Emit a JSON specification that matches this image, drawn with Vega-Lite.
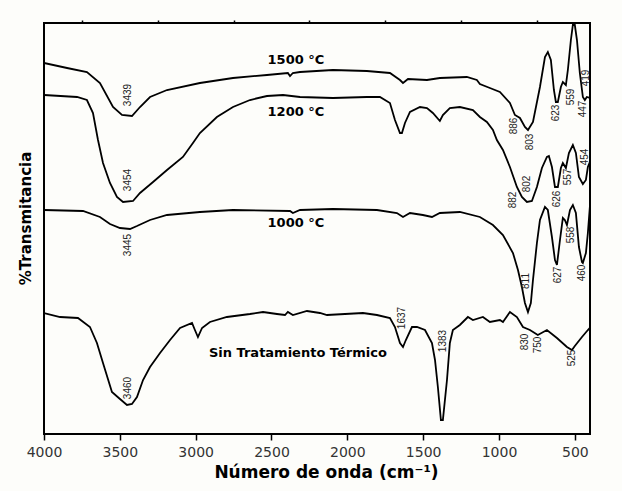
{
  "$schema": "https://vega.github.io/schema/vega-lite/v6.json",
  "width": 546,
  "height": 411,
  "autosize": {"type": "none"},
  "padding": {"left": 44, "top": 23, "right": 32, "bottom": 57},
  "background": "#fdfdfa",
  "config": {
    "view": {"stroke": "black", "strokeWidth": 2},
    "axis": {"grid": false, "domain": false}
  },
  "datasets": {
    "spectra": [
      {"s": "1500", "w": 4000, "t": 371}, {"s": "1500", "w": 3848, "t": 366}, {"s": "1500", "w": 3717, "t": 362},
      {"s": "1500", "w": 3631, "t": 351}, {"s": "1500", "w": 3545, "t": 327}, {"s": "1500", "w": 3486, "t": 319},
      {"s": "1500", "w": 3420, "t": 318}, {"s": "1500", "w": 3367, "t": 327}, {"s": "1500", "w": 3301, "t": 337},
      {"s": "1500", "w": 3189, "t": 344}, {"s": "1500", "w": 2972, "t": 351}, {"s": "1500", "w": 2754, "t": 356},
      {"s": "1500", "w": 2530, "t": 359}, {"s": "1500", "w": 2392, "t": 361}, {"s": "1500", "w": 2378, "t": 358},
      {"s": "1500", "w": 2359, "t": 361}, {"s": "1500", "w": 2312, "t": 362}, {"s": "1500", "w": 2095, "t": 364},
      {"s": "1500", "w": 1871, "t": 363}, {"s": "1500", "w": 1719, "t": 361}, {"s": "1500", "w": 1653, "t": 354},
      {"s": "1500", "w": 1633, "t": 351}, {"s": "1500", "w": 1600, "t": 355}, {"s": "1500", "w": 1475, "t": 354},
      {"s": "1500", "w": 1390, "t": 356}, {"s": "1500", "w": 1212, "t": 357}, {"s": "1500", "w": 1146, "t": 354},
      {"s": "1500", "w": 1126, "t": 350}, {"s": "1500", "w": 1060, "t": 346}, {"s": "1500", "w": 994, "t": 342},
      {"s": "1500", "w": 928, "t": 331}, {"s": "1500", "w": 895, "t": 319}, {"s": "1500", "w": 862, "t": 316},
      {"s": "1500", "w": 829, "t": 307}, {"s": "1500", "w": 809, "t": 304}, {"s": "1500", "w": 776, "t": 312},
      {"s": "1500", "w": 730, "t": 347}, {"s": "1500", "w": 697, "t": 377}, {"s": "1500", "w": 678, "t": 382},
      {"s": "1500", "w": 658, "t": 374}, {"s": "1500", "w": 638, "t": 344}, {"s": "1500", "w": 625, "t": 332},
      {"s": "1500", "w": 612, "t": 332}, {"s": "1500", "w": 592, "t": 347}, {"s": "1500", "w": 579, "t": 352},
      {"s": "1500", "w": 559, "t": 349}, {"s": "1500", "w": 546, "t": 364}, {"s": "1500", "w": 526, "t": 394},
      {"s": "1500", "w": 513, "t": 409}, {"s": "1500", "w": 500, "t": 409}, {"s": "1500", "w": 486, "t": 394},
      {"s": "1500", "w": 467, "t": 361}, {"s": "1500", "w": 447, "t": 337}, {"s": "1500", "w": 434, "t": 334},
      {"s": "1500", "w": 421, "t": 337}, {"s": "1500", "w": 401, "t": 336},

      {"s": "1200", "w": 4000, "t": 339}, {"s": "1200", "w": 3782, "t": 337}, {"s": "1200", "w": 3717, "t": 334},
      {"s": "1200", "w": 3677, "t": 321}, {"s": "1200", "w": 3644, "t": 294}, {"s": "1200", "w": 3611, "t": 271},
      {"s": "1200", "w": 3565, "t": 251}, {"s": "1200", "w": 3519, "t": 237}, {"s": "1200", "w": 3479, "t": 232},
      {"s": "1200", "w": 3413, "t": 233}, {"s": "1200", "w": 3367, "t": 241}, {"s": "1200", "w": 3281, "t": 252},
      {"s": "1200", "w": 3189, "t": 264}, {"s": "1200", "w": 3084, "t": 277}, {"s": "1200", "w": 3018, "t": 291},
      {"s": "1200", "w": 2972, "t": 301}, {"s": "1200", "w": 2860, "t": 317}, {"s": "1200", "w": 2754, "t": 327},
      {"s": "1200", "w": 2642, "t": 334}, {"s": "1200", "w": 2530, "t": 338}, {"s": "1200", "w": 2424, "t": 339},
      {"s": "1200", "w": 2312, "t": 337}, {"s": "1200", "w": 2095, "t": 336}, {"s": "1200", "w": 1871, "t": 337},
      {"s": "1200", "w": 1785, "t": 337}, {"s": "1200", "w": 1719, "t": 331}, {"s": "1200", "w": 1686, "t": 314},
      {"s": "1200", "w": 1653, "t": 301}, {"s": "1200", "w": 1640, "t": 301}, {"s": "1200", "w": 1620, "t": 311},
      {"s": "1200", "w": 1587, "t": 322}, {"s": "1200", "w": 1521, "t": 327}, {"s": "1200", "w": 1475, "t": 326},
      {"s": "1200", "w": 1436, "t": 321}, {"s": "1200", "w": 1390, "t": 313}, {"s": "1200", "w": 1370, "t": 319},
      {"s": "1200", "w": 1324, "t": 326}, {"s": "1200", "w": 1258, "t": 327}, {"s": "1200", "w": 1172, "t": 324},
      {"s": "1200", "w": 1126, "t": 317}, {"s": "1200", "w": 1080, "t": 312}, {"s": "1200", "w": 1040, "t": 304},
      {"s": "1200", "w": 1014, "t": 294}, {"s": "1200", "w": 974, "t": 284}, {"s": "1200", "w": 928, "t": 267},
      {"s": "1200", "w": 882, "t": 247}, {"s": "1200", "w": 849, "t": 237}, {"s": "1200", "w": 816, "t": 232},
      {"s": "1200", "w": 783, "t": 233}, {"s": "1200", "w": 750, "t": 247}, {"s": "1200", "w": 717, "t": 266},
      {"s": "1200", "w": 684, "t": 277}, {"s": "1200", "w": 671, "t": 278}, {"s": "1200", "w": 651, "t": 267},
      {"s": "1200", "w": 631, "t": 247}, {"s": "1200", "w": 612, "t": 247}, {"s": "1200", "w": 592, "t": 266},
      {"s": "1200", "w": 579, "t": 271}, {"s": "1200", "w": 559, "t": 266}, {"s": "1200", "w": 539, "t": 281},
      {"s": "1200", "w": 513, "t": 289}, {"s": "1200", "w": 493, "t": 281}, {"s": "1200", "w": 473, "t": 257},
      {"s": "1200", "w": 447, "t": 250}, {"s": "1200", "w": 427, "t": 254}, {"s": "1200", "w": 414, "t": 267},
      {"s": "1200", "w": 401, "t": 272},

      {"s": "1000", "w": 4000, "t": 224}, {"s": "1000", "w": 3743, "t": 223}, {"s": "1000", "w": 3631, "t": 217},
      {"s": "1000", "w": 3565, "t": 210}, {"s": "1000", "w": 3499, "t": 206}, {"s": "1000", "w": 3433, "t": 205},
      {"s": "1000", "w": 3387, "t": 208}, {"s": "1000", "w": 3301, "t": 214}, {"s": "1000", "w": 3189, "t": 219},
      {"s": "1000", "w": 2972, "t": 222}, {"s": "1000", "w": 2754, "t": 224}, {"s": "1000", "w": 2378, "t": 223},
      {"s": "1000", "w": 2359, "t": 221}, {"s": "1000", "w": 2312, "t": 224}, {"s": "1000", "w": 2095, "t": 225},
      {"s": "1000", "w": 1805, "t": 224}, {"s": "1000", "w": 1673, "t": 221}, {"s": "1000", "w": 1633, "t": 217},
      {"s": "1000", "w": 1587, "t": 221}, {"s": "1000", "w": 1502, "t": 219}, {"s": "1000", "w": 1442, "t": 217},
      {"s": "1000", "w": 1390, "t": 221}, {"s": "1000", "w": 1258, "t": 222}, {"s": "1000", "w": 1126, "t": 217},
      {"s": "1000", "w": 1040, "t": 209}, {"s": "1000", "w": 974, "t": 199}, {"s": "1000", "w": 908, "t": 181},
      {"s": "1000", "w": 875, "t": 164}, {"s": "1000", "w": 849, "t": 147}, {"s": "1000", "w": 829, "t": 131},
      {"s": "1000", "w": 809, "t": 122}, {"s": "1000", "w": 790, "t": 131}, {"s": "1000", "w": 776, "t": 154},
      {"s": "1000", "w": 750, "t": 191}, {"s": "1000", "w": 730, "t": 214}, {"s": "1000", "w": 697, "t": 227},
      {"s": "1000", "w": 678, "t": 224}, {"s": "1000", "w": 651, "t": 197}, {"s": "1000", "w": 631, "t": 174},
      {"s": "1000", "w": 618, "t": 169}, {"s": "1000", "w": 598, "t": 194}, {"s": "1000", "w": 579, "t": 216},
      {"s": "1000", "w": 566, "t": 214}, {"s": "1000", "w": 552, "t": 209}, {"s": "1000", "w": 532, "t": 224},
      {"s": "1000", "w": 513, "t": 229}, {"s": "1000", "w": 493, "t": 221}, {"s": "1000", "w": 473, "t": 187},
      {"s": "1000", "w": 453, "t": 172}, {"s": "1000", "w": 447, "t": 171}, {"s": "1000", "w": 427, "t": 181},
      {"s": "1000", "w": 414, "t": 201}, {"s": "1000", "w": 401, "t": 227},

      {"s": "sin", "w": 4000, "t": 121}, {"s": "sin", "w": 3894, "t": 117}, {"s": "sin", "w": 3776, "t": 116},
      {"s": "sin", "w": 3697, "t": 107}, {"s": "sin", "w": 3651, "t": 91}, {"s": "sin", "w": 3611, "t": 71},
      {"s": "sin", "w": 3552, "t": 42}, {"s": "sin", "w": 3499, "t": 35}, {"s": "sin", "w": 3453, "t": 29},
      {"s": "sin", "w": 3420, "t": 30}, {"s": "sin", "w": 3387, "t": 37}, {"s": "sin", "w": 3347, "t": 54},
      {"s": "sin", "w": 3301, "t": 67}, {"s": "sin", "w": 3235, "t": 81}, {"s": "sin", "w": 3169, "t": 94},
      {"s": "sin", "w": 3103, "t": 106}, {"s": "sin", "w": 3024, "t": 111}, {"s": "sin", "w": 3005, "t": 104},
      {"s": "sin", "w": 2985, "t": 97}, {"s": "sin", "w": 2958, "t": 106}, {"s": "sin", "w": 2906, "t": 112},
      {"s": "sin", "w": 2794, "t": 117}, {"s": "sin", "w": 2642, "t": 120}, {"s": "sin", "w": 2556, "t": 122},
      {"s": "sin", "w": 2464, "t": 120}, {"s": "sin", "w": 2411, "t": 119}, {"s": "sin", "w": 2392, "t": 122},
      {"s": "sin", "w": 2359, "t": 119}, {"s": "sin", "w": 2266, "t": 123}, {"s": "sin", "w": 2181, "t": 121},
      {"s": "sin", "w": 2134, "t": 119}, {"s": "sin", "w": 1897, "t": 121}, {"s": "sin", "w": 1805, "t": 119},
      {"s": "sin", "w": 1719, "t": 116}, {"s": "sin", "w": 1686, "t": 107}, {"s": "sin", "w": 1653, "t": 91},
      {"s": "sin", "w": 1633, "t": 87}, {"s": "sin", "w": 1614, "t": 94}, {"s": "sin", "w": 1574, "t": 107},
      {"s": "sin", "w": 1541, "t": 107}, {"s": "sin", "w": 1488, "t": 104}, {"s": "sin", "w": 1442, "t": 91},
      {"s": "sin", "w": 1422, "t": 74}, {"s": "sin", "w": 1403, "t": 47}, {"s": "sin", "w": 1383, "t": 14},
      {"s": "sin", "w": 1370, "t": 14}, {"s": "sin", "w": 1343, "t": 54}, {"s": "sin", "w": 1324, "t": 91},
      {"s": "sin", "w": 1304, "t": 104}, {"s": "sin", "w": 1258, "t": 109}, {"s": "sin", "w": 1205, "t": 117},
      {"s": "sin", "w": 1172, "t": 114}, {"s": "sin", "w": 1106, "t": 117}, {"s": "sin", "w": 1060, "t": 112},
      {"s": "sin", "w": 994, "t": 114}, {"s": "sin", "w": 974, "t": 112}, {"s": "sin", "w": 928, "t": 122},
      {"s": "sin", "w": 882, "t": 117}, {"s": "sin", "w": 842, "t": 107}, {"s": "sin", "w": 796, "t": 104},
      {"s": "sin", "w": 744, "t": 99}, {"s": "sin", "w": 684, "t": 104}, {"s": "sin", "w": 618, "t": 96},
      {"s": "sin", "w": 552, "t": 87}, {"s": "sin", "w": 519, "t": 84}, {"s": "sin", "w": 500, "t": 88},
      {"s": "sin", "w": 453, "t": 97}, {"s": "sin", "w": 414, "t": 104}, {"s": "sin", "w": 401, "t": 106}
    ],
    "peaks": [
      {"label": "3439", "w": 3446, "t": 339}, {"label": "3454", "w": 3446, "t": 254},
      {"label": "3445", "w": 3446, "t": 189}, {"label": "3460", "w": 3446, "t": 46},
      {"label": "1637", "w": 1640, "t": 116}, {"label": "1383", "w": 1370, "t": 93},
      {"label": "830", "w": 829, "t": 92}, {"label": "750", "w": 744, "t": 89},
      {"label": "525", "w": 519, "t": 76}, {"label": "811", "w": 823, "t": 153},
      {"label": "627", "w": 612, "t": 159}, {"label": "460", "w": 453, "t": 161},
      {"label": "558", "w": 526, "t": 199}, {"label": "886", "w": 902, "t": 308},
      {"label": "803", "w": 796, "t": 292}, {"label": "623", "w": 625, "t": 321},
      {"label": "559", "w": 526, "t": 337}, {"label": "447", "w": 447, "t": 325},
      {"label": "419", "w": 427, "t": 356}, {"label": "882", "w": 908, "t": 234},
      {"label": "802", "w": 816, "t": 250}, {"label": "626", "w": 618, "t": 235},
      {"label": "557", "w": 546, "t": 257}, {"label": "454", "w": 434, "t": 277}
    ],
    "names": [
      {"label": "1500 °C", "w": 2339, "t": 374},
      {"label": "1200 °C", "w": 2339, "t": 322},
      {"label": "1000 °C", "w": 2339, "t": 211},
      {"label": "Sin Tratamiento Térmico", "w": 2326, "t": 81}
    ]
  },
  "resolve": {"axis": {"x": "independent"}},
  "layer": [
    {
      "data": {"name": "spectra"},
      "mark": {"type": "line", "color": "black", "strokeWidth": 1.8, "clip": true},
      "encoding": {
        "x": {
          "field": "w", "type": "quantitative",
          "scale": {"domain": [4000, 400], "nice": false, "zero": false},
          "axis": {
            "values": [4000, 3500, 3000, 2500, 2000, 1500, 1000, 500],
            "format": "d", "labelFlush": false, "labelOverlap": false,
            "tickSize": 6, "tickWidth": 1.5, "tickColor": "black",
            "labelFont": "DejaVu Sans", "labelFontSize": 14, "labelColor": "#333333",
            "labelPadding": 5,
            "title": "Número de onda (cm⁻¹)",
            "titleFont": "DejaVu Sans", "titleFontSize": 17, "titleFontWeight": "bold",
            "titleColor": "black", "titlePadding": 5, "titleX": 282
          }
        },
        "y": {
          "field": "t", "type": "quantitative",
          "scale": {"domain": [0, 411], "nice": false, "zero": false},
          "axis": {
            "ticks": false, "labels": false,
            "title": "%Transmitancia",
            "titleFont": "DejaVu Sans", "titleFontSize": 15, "titleFontWeight": "bold",
            "titleColor": "black", "titlePadding": 11, "titleY": 195
          }
        },
        "detail": {"field": "s"}
      }
    },
    {
      "data": {"name": "peaks"},
      "mark": {"type": "text", "angle": 270, "align": "center", "baseline": "middle",
               "font": "Liberation Sans", "fontSize": 10, "color": "#222222"},
      "encoding": {
        "x": {
          "field": "w", "type": "quantitative",
          "axis": {
            "values": [3750, 3250, 2750, 2250, 1750, 1250, 750],
            "tickSize": 3, "tickWidth": 1.5, "tickColor": "black",
            "labels": false, "title": null
          }
        },
        "y": {"field": "t", "type": "quantitative"},
        "text": {"field": "label"}
      }
    },
    {
      "data": {"name": "names"},
      "mark": {"type": "text", "align": "center", "baseline": "middle",
               "font": "DejaVu Sans", "fontSize": 13, "fontWeight": "bold", "color": "black"},
      "encoding": {
        "x": {"field": "w", "type": "quantitative", "axis": null},
        "y": {"field": "t", "type": "quantitative"},
        "text": {"field": "label"}
      }
    }
  ]
}
